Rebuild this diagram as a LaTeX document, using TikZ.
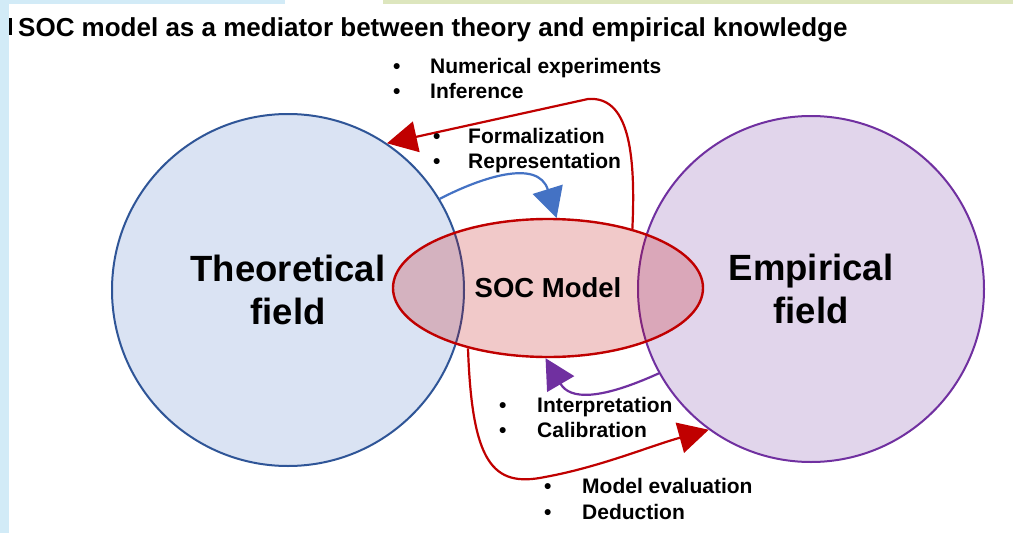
\documentclass[tikz,border=0pt]{standalone}
\usepackage{fontspec}
\setmainfont{Liberation Sans}
\usetikzlibrary{arrows.meta,shapes.geometric}

\definecolor{theoFill}{RGB}{218,227,243}
\definecolor{theoLine}{RGB}{47,85,151}
\definecolor{empFill}{RGB}{225,213,235}
\definecolor{empLine}{RGB}{112,48,160}
\definecolor{socRed}{RGB}{192,0,0}
\definecolor{flowBlue}{RGB}{68,114,196}
\definecolor{edgeBlue}{RGB}{210,235,247}
\definecolor{edgeGreen}{RGB}{221,230,190}

% bullet followed by its text, the text starting #1 after the bullet's left edge
\newcommand\bulitem[2]{\makebox[#1][l]{•}#2}

\begin{document}
\begin{tikzpicture}[x=1pt,y=-1pt,
  field/.style={circle, inner sep=0pt, line width=2pt, align=center,
    font=\fontsize{36.5}{43}\selectfont\bfseries},
  bulletline/.style={anchor=base west, inner sep=0pt,
    font=\fontsize{21}{25}\selectfont\bfseries},
  flow/.style={line width=2.2pt, -{Triangle[length=30pt,width=31pt]}},
]
% page and slide edges
\useasboundingbox (0,0) rectangle (1013,533);
\fill[white] (0,0) rectangle (1013,533);
\fill[black] (9,18) rectangle (12,35);
\fill[edgeBlue] (0,0) rectangle (9,533);
\fill[edgeBlue] (0,0) rectangle (285,4);
\fill[edgeGreen] (383,0) rectangle (1013,4);

% title
\node[anchor=base west, inner sep=0pt, font=\fontsize{26}{30}\selectfont\bfseries]
  (title) at (18,36) {SOC model as a mediator between theory and empirical knowledge};

% the two fields and the model between them
\node[field, minimum size=352pt, draw=theoLine, fill=theoFill] (T) at (288,290) {Theoretical\\field};
\node[field, minimum size=346pt, draw=empLine, fill=empFill] (E) at (811,289) {Empirical\\field};
\node[ellipse, minimum width=310pt, minimum height=138pt, inner sep=0pt,
  draw=socRed, line width=2.4pt, fill=socRed, fill opacity=0.21, text opacity=1,
  font=\fontsize{27.5}{33}\selectfont\bfseries] (S) at (548,288) {SOC Model};

% connectors
\draw[flow, socRed] (S.35) .. controls (636,150) and (628,96) .. (588,99) -- (T.56);
\draw[flow, flowBlue] (T.31) .. controls (480,178) and (538,158) .. (S.83);
\draw[flow, empLine] (E.209) .. controls (600,400) and (570,400) .. (S.268);
\draw[flow, socRed] (S.217) .. controls (472,462) and (492,488) .. (545,477)
  .. controls (600,467) and (650,446) .. (E.234);

% labels of the connectors
\node[bulletline] (numexp) at (393,73) {\bulitem{37pt}{Numerical experiments}};
\node[bulletline] (infer) at (393,98) {\bulitem{37pt}{Inference}};
\node[bulletline] (formal) at (433,143) {\bulitem{35pt}{Formalization}};
\node[bulletline] (repres) at (433,168) {\bulitem{35pt}{Representation}};
\node[bulletline] (interp) at (499,412) {\bulitem{38pt}{Interpretation}};
\node[bulletline] (calib) at (499,437) {\bulitem{38pt}{Calibration}};
\node[bulletline] (modeval) at (544,493) {\bulitem{38pt}{Model evaluation}};
\node[bulletline] (deduc) at (544,519) {\bulitem{38pt}{Deduction}};
\end{tikzpicture}
\end{document}
